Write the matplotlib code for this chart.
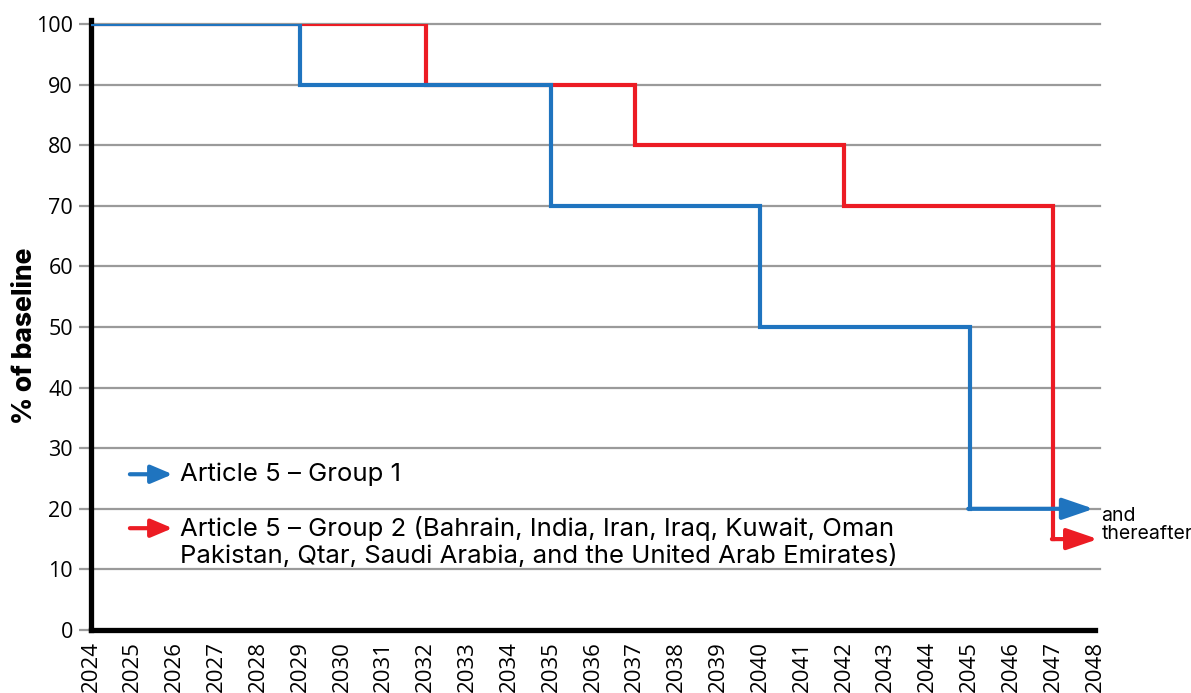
import matplotlib.pyplot as plt

# data
years = list(range(2024, 2049))
g1_years = [2024, 2029, 2035, 2040, 2045]
g1_vals = [100, 90, 70, 50, 20]
g2_years = [2024, 2032, 2037, 2042, 2047]
g2_vals = [100, 90, 80, 70, 15]
g1_end = 2047.97
g2_end = 2048.07
yticks = list(range(0, 101, 10))
label_g1 = 'Article 5 – Group 1'
label_g2 = ['Article 5 – Group 2 (Bahrain, India, Iran, Iraq, Kuwait, Oman',
            'Pakistan, Qtar, Saudi Arabia, and the United Arab Emirates)']

blue = '#1f74bf'
red = '#ec1c24'
grey = '#9a9a9a'
sans = ['Inter', 'DejaVu Sans']

plt.rcParams['font.family'] = ['Open Sans', 'DejaVu Sans']

fig = plt.figure(figsize=(11.91, 6.93), dpi=100)
ax = fig.add_axes([0.0764, 0.0909, 0.843, 0.8745])

ax.set_xlim(2024, 2048)
ax.set_ylim(0, 100)

for y in yticks[1:]:
    ax.axhline(y, color=grey, lw=1.6, zorder=1, xmax=1.005, clip_on=False)

big_head = '-|>,head_length=1.9,head_width=0.65'
small_head = '-|>,head_length=1.3,head_width=0.55'

# group 2 under group 1
ax.step(g2_years, g2_vals, where='post', color=red, lw=3, zorder=3, solid_joinstyle='miter')
ax.annotate('', xy=(g2_end, g2_vals[-1]), xytext=(g2_years[-1] - 0.03, g2_vals[-1]),
            arrowprops=dict(arrowstyle=big_head, color=red, lw=3, shrinkA=0, shrinkB=0),
            annotation_clip=False, zorder=3)
ax.step(g1_years, g1_vals, where='post', color=blue, lw=3, zorder=4, solid_joinstyle='miter')
ax.annotate('', xy=(g1_end, g1_vals[-1]), xytext=(g1_years[-1] - 0.03, g1_vals[-1]),
            arrowprops=dict(arrowstyle=big_head, color=blue, lw=3, shrinkA=0, shrinkB=0),
            annotation_clip=False, zorder=4)

ax.text(2048.15, 20.3, 'and\nthereafter', fontsize=14, va='top', ha='left',
        family=sans, linespacing=1.0, clip_on=False)

# legend drawn by hand
ax.annotate('', xy=(2025.95, 25.7), xytext=(2024.93, 25.7),
            arrowprops=dict(arrowstyle=small_head, color=blue, lw=3, shrinkA=0, shrinkB=0))
ax.text(2026.13, 25.7, label_g1, fontsize=18.5, va='center', ha='left', family=sans)
ax.annotate('', xy=(2025.95, 16.8), xytext=(2024.93, 16.8),
            arrowprops=dict(arrowstyle=small_head, color=red, lw=3, shrinkA=0, shrinkB=0))
ax.text(2026.13, 16.8, label_g2[0], fontsize=18.5, va='center', ha='left', family=sans)
ax.text(2026.13, 12.2, label_g2[1], fontsize=18.5, va='center', ha='left', family=sans)

ax.set_xticks(years)
ax.set_xticklabels([str(y) for y in years], rotation=90, fontsize=16, va='top')
ax.set_yticks(yticks)
ax.set_yticklabels([str(y) for y in yticks], fontsize=15.5)
ax.tick_params(axis='x', length=0, pad=8)
ax.tick_params(axis='y', length=9, width=1.6, color=grey, pad=4)

for s in ['top', 'right']:
    ax.spines[s].set_visible(False)
for s in ['left', 'bottom']:
    ax.spines[s].set_linewidth(3.8)
    ax.spines[s].set_color('black')
    ax.spines[s].set_capstyle('projecting')
ax.spines['left'].set_bounds(0, 100.6)

fig.text(0.021, 0.515, '% of baseline', rotation=90, fontsize=19, fontweight='heavy',
         family=sans, va='center', ha='center')

fig.savefig('out.png', dpi=100)
